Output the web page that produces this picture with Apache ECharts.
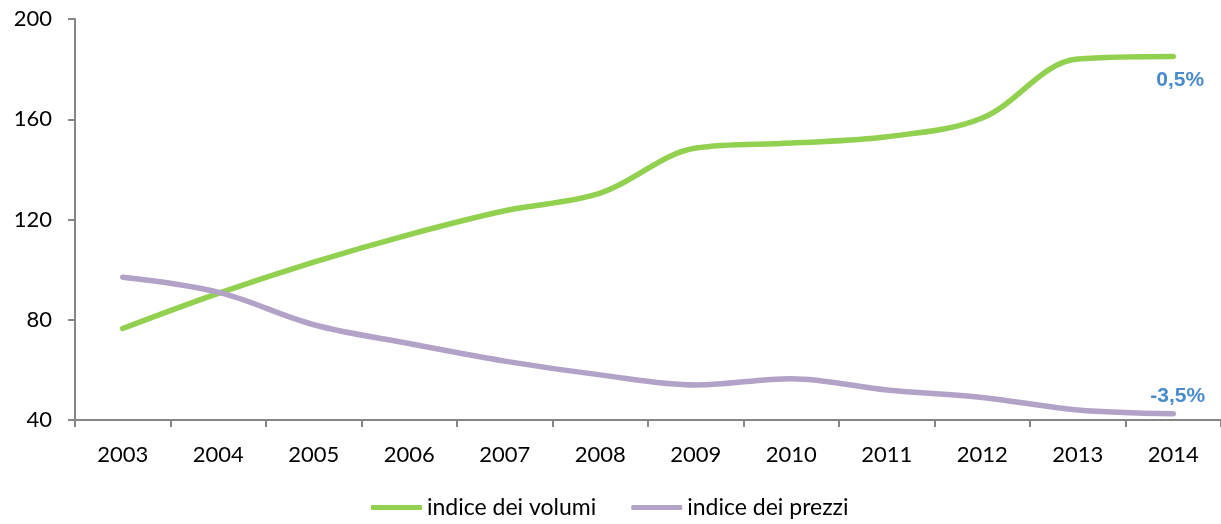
<!DOCTYPE html>
<html>
<head>
<meta charset="utf-8">
<script src="https://cdn.jsdelivr.net/npm/echarts@6/dist/echarts.min.js"></script>
<style>
  html, body { margin: 0; padding: 0; background: #fff; }
  #chart { width: 1221px; height: 524px; }
</style>
</head>
<body>
<div id="chart"></div>
<script>
var anni = ["2003", "2004", "2005", "2006", "2007", "2008", "2009", "2010", "2011", "2012", "2013", "2014"];
var volumi = [76.5, 90.5, 103, 114, 123.5, 130.5, 148.5, 150.5, 153, 160.5, 184, 185];
var prezzi = [97, 91, 78, 70.5, 63.5, 58, 54, 56.5, 52, 49, 44, 42.5];
var etichette = ["0,5%", "-3,5%"];

var chart = echarts.init(document.getElementById("chart"));

// etichetta finale in blu, spostata sotto/sopra la fine della linea
function etichettaFinale(testo, dx, dy) {
  return {
    show: true,
    formatter: testo,
    distance: 5,
    offset: [dx, dy],
    color: "#4A8BCB",
    fontFamily: "Liberation Sans, Arial",
    fontWeight: "bold",
    fontSize: 21,
  };
}

var option = {
  animation: false,
  textStyle: { fontFamily: "Lato, 'Open Sans', sans-serif" },
  grid: { left: 75, top: 19, width: 1148, bottom: 104 },
  legend: {
    bottom: 0,
    left: 366,
    icon: "roundRect",
    itemWidth: 51,
    itemHeight: 5,
    itemGap: 35,
    textStyle: { fontSize: 23, color: "#000" },
    data: ["indice dei volumi", "indice dei prezzi"],
  },
  xAxis: {
    type: "category",
    data: anni,
    boundaryGap: true,
    axisLine: { lineStyle: { color: "#868686", width: 2 } },
    axisTick: { show: true, length: 7, lineStyle: { color: "#868686", width: 2 } },
    axisLabel: { color: "#000", fontSize: 22, margin: 24 },
  },
  yAxis: {
    type: "value",
    min: 40,
    max: 200,
    interval: 40,
    splitLine: { show: false },
    axisLine: { show: true, lineStyle: { color: "#868686", width: 2 } },
    axisTick: { show: true, length: 7, lineStyle: { color: "#868686", width: 2 } },
    axisLabel: { color: "#000", fontSize: 22, margin: 23 },
  },
  series: [
    {
      name: "indice dei volumi",
      type: "line",
      smooth: 0.35,
      symbol: "none",
      color: "#92D050",
      lineStyle: { width: 5.5, cap: "round" },
      endLabel: etichettaFinale(etichette[0], -22, 24),
      data: volumi,
    },
    {
      name: "indice dei prezzi",
      type: "line",
      smooth: 0.35,
      symbol: "none",
      color: "#B3A2C7",
      lineStyle: { width: 5.5, cap: "round" },
      endLabel: etichettaFinale(etichette[1], -28, -18),
      data: prezzi,
    },
  ],
};
chart.setOption(option);
</script>
</body>
</html>
